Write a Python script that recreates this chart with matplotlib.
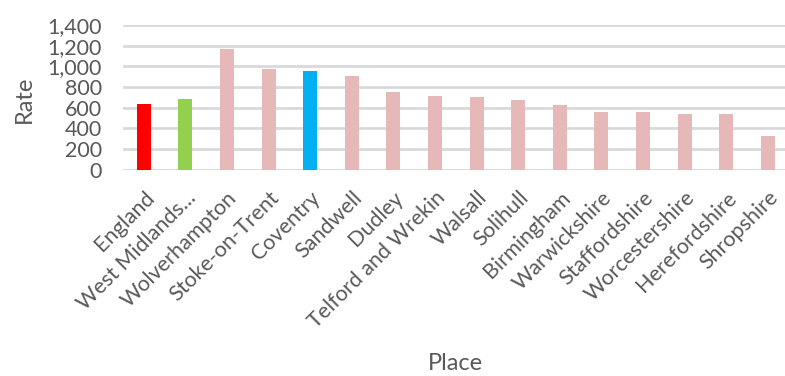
import matplotlib
matplotlib.use("Agg")
import matplotlib.pyplot as plt
from matplotlib.ticker import FuncFormatter, MultipleLocator

places = ["England", "West Midlands...", "Wolverhampton", "Stoke-on-Trent", "Coventry",
          "Sandwell", "Dudley", "Telford and Wrekin", "Walsall", "Solihull",
          "Birmingham", "Warwickshire", "Staffordshire", "Worcestershire",
          "Herefordshire", "Shropshire"]
rates = [635, 683, 1168, 974, 954, 906, 751, 712, 703, 673, 625, 557, 557, 538, 538, 325]

highlight = {"England": "#ff0000", "West Midlands...": "#92d050", "Coventry": "#00b0f0"}
default_colour = "#e6b8b7"
colours = [highlight.get(p, default_colour) for p in places]

text_colour = "#595959"
grid_colour = "#d9d9d9"
font = "Lato"
fs = 15.5
title_fs = 17

W, H = 785, 376
fig = plt.figure(figsize=(W / 100, H / 100), dpi=100)
left, right, top, bottom = 123, 785, 25, 169.5
ax = fig.add_axes([left / W, (H - bottom) / H, (right - left) / W, (bottom - top) / H])

slot = 41.6
x = list(range(len(places)))
ax.bar(x, rates, width=14 / slot, color=colours, zorder=3)

ax.set_xlim(-0.5, -0.5 + (right - left) / slot)
ax.set_ylim(0, 1400)
ax.yaxis.set_major_locator(MultipleLocator(200))
ax.yaxis.set_major_formatter(FuncFormatter(lambda v, _: f"{v:,.0f}"))
ax.grid(axis="y", color=grid_colour, linewidth=2, zorder=0)
ax.set_axisbelow(True)
for s in ax.spines.values():
    s.set_visible(False)

ax.tick_params(axis="both", length=0, labelcolor=text_colour, labelsize=fs)
ax.tick_params(axis="y", pad=15)
ax.tick_params(axis="x", pad=13)
for lab in ax.get_yticklabels():
    lab.set_fontfamily(font)

ax.set_xticks(x)
ax.set_xticklabels(places, rotation=45, ha="right", rotation_mode="anchor",
                   fontfamily=font, fontsize=fs, color=text_colour)

fig.text(24 / W, (H - 99) / H, "Rate", rotation=90, ha="center", va="center",
         fontfamily=font, fontsize=title_fs, color=text_colour)
fig.text(455 / W, (H - 363) / H, "Place", ha="center", va="center",
         fontfamily=font, fontsize=title_fs, color=text_colour)

fig.savefig("out.png", dpi=100)
